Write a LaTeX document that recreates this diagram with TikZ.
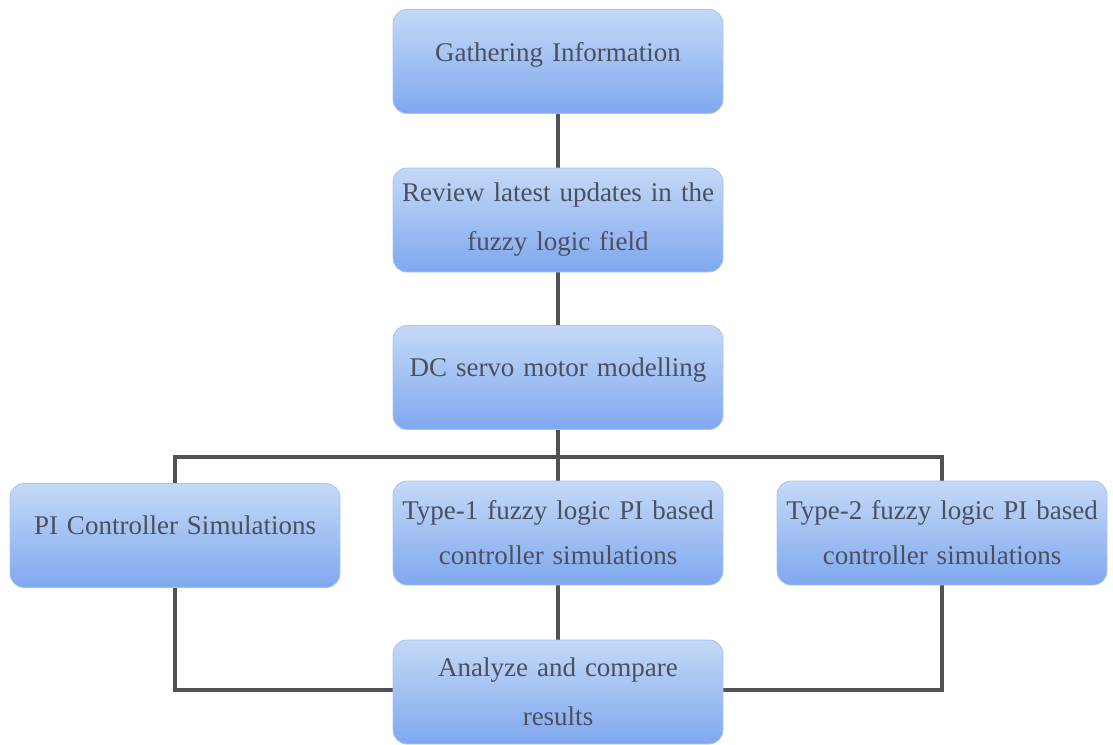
\documentclass[tikz,border=0pt]{standalone}
\usepackage{fontspec}
\setmainfont{Liberation Serif}
\pgfdeclarelayer{background}
\pgfsetlayers{background,main}
\begin{document}
\begin{tikzpicture}[x=1pt,y=-1pt,
  box/.style={rounded corners=14pt, top color=boxtop, bottom color=boxbot,
    draw=boxedge, line width=0.8pt, minimum width=330pt, minimum height=104pt,
    text width=330pt, align=center, text=txt, font=\fontsize{27}{49}\selectfont, inner sep=0pt},
  raise/.style={text depth=#1},
  conn/.style={draw=linegray, line width=3.5pt}]
\definecolor{boxtop}{HTML}{C4D9F7}
\definecolor{boxbot}{HTML}{7FA8EE}
\definecolor{boxedge}{HTML}{A9C3EE}
\definecolor{txt}{HTML}{4A5060}
\definecolor{linegray}{HTML}{505258}
\useasboundingbox (0,0) rectangle (1113,744);
\node[box, raise=20pt] (g) at (558,61.5) {Gathering Information};
\node[box] (r) at (558,220) {Review latest updates in the\\fuzzy logic field};
\node[box, raise=20pt] (d) at (558,377.5) {DC servo motor modelling};
\node[box, raise=20pt] (p) at (175,535.5) {PI Controller Simulations};
\node[box, font=\fontsize{27}{45}\selectfont] (t1) at (558,533) {Type-1 fuzzy logic PI based\\controller simulations};
\node[box, font=\fontsize{27}{45}\selectfont] (t2) at (942,533) {Type-2 fuzzy logic PI based\\controller simulations};
\node[box] (a) at (558,692) {Analyze and compare\\results};
\coordinate (hl) at (175,457);
\coordinate (hr) at (942,457);
\coordinate (bl) at (175,690);
\coordinate (br) at (942,690);
\begin{pgfonlayer}{background}
\draw[conn] (g) -- (r);
\draw[conn] (r) -- (d);
\draw[conn] (d) -- (t1);
\draw[conn] (p.north) -- (hl) -- (hr) -- (t2.north);
\draw[conn] (t1) -- (a);
\draw[conn] (p.south) -- (bl) -- (a.west |- bl);
\draw[conn] (t2.south) -- (br) -- (a.east |- br);
\end{pgfonlayer}
\end{tikzpicture}
\end{document}
